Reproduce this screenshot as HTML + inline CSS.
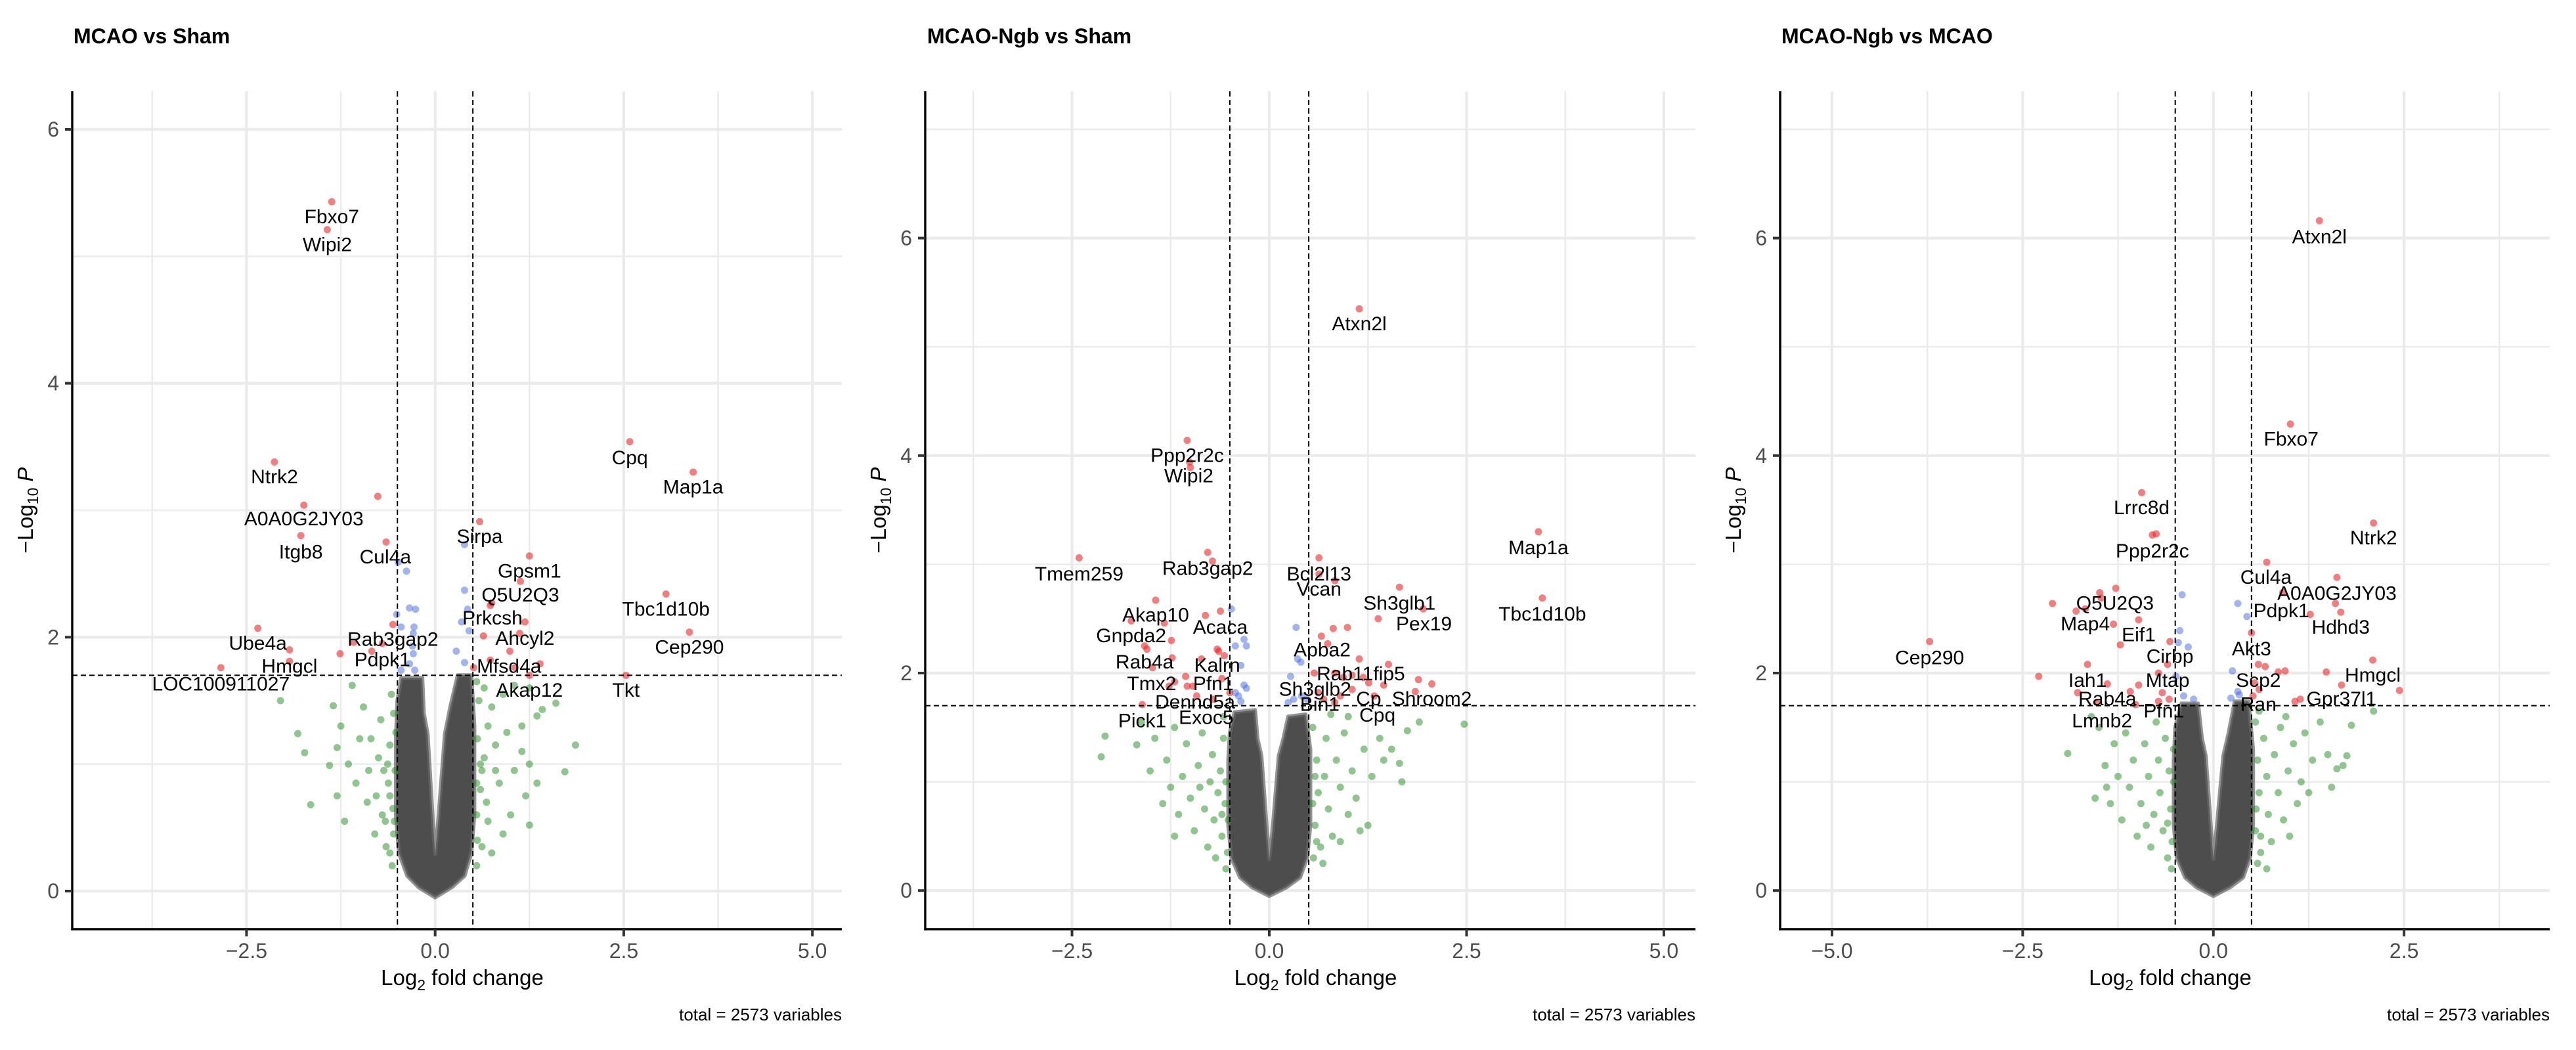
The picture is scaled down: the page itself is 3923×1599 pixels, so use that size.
<!DOCTYPE html>
<html><head><meta charset="utf-8"><style>
html,body{margin:0;padding:0;background:#fff}
svg{display:block;font-family:"Liberation Sans",sans-serif}
</style></head><body>
<svg id="chart" width="3923" height="1599" viewBox="0 0 3923 1599" xmlns="http://www.w3.org/2000/svg"></svg>
<script>
// ---------- DATA ----------
const p1Red=[[-1.37,5.43],[-1.43,5.21],[-2.13,3.38],[-1.74,3.04],[-1.78,2.80],[-0.76,3.11],[-0.65,2.75],[2.58,3.54],[3.42,3.30],[0.59,2.91],[1.25,2.64],[1.13,2.44],[0.73,2.25],[0.75,2.27],[1.19,2.12],[3.06,2.34],[3.37,2.04],[0.64,2.01],[1.12,2.03],[0.99,1.89],[-2.35,2.07],[-1.93,1.90],[-1.93,1.81],[-2.84,1.76],[-1.26,1.87],[-1.08,1.96],[-0.84,1.89],[-0.70,1.95],[-0.56,2.10],[0.73,1.82],[0.51,1.76],[1.06,1.76],[1.39,1.79],[1.25,1.70],[2.53,1.70]];
const p1Blue=[[0.39,2.73],[-0.38,2.52],[-0.49,2.59],[0.39,2.37],[-0.51,2.18],[-0.34,2.23],[-0.26,2.22],[-0.28,2.08],[-0.45,2.08],[-0.29,2.03],[-0.30,1.93],[-0.29,1.87],[-0.34,1.79],[-0.45,1.74],[-0.27,1.74],[0.35,2.12],[0.45,2.05],[0.43,2.22],[0.28,1.89],[0.39,1.80]];
const p1Green=[[-2.05,1.50],[-1.82,1.24],[-1.73,1.09],[-1.65,0.68],[-1.35,1.46],[-1.30,1.13],[-1.40,0.99],[-1.25,1.30],[-1.20,0.55],[-1.30,0.75],[-1.10,1.62],[-1.05,0.85],[-1.00,1.20],[-0.95,1.45],[-0.90,0.70],[-0.85,1.20],[-0.80,0.45],[-0.75,1.05],[-0.72,1.35],[-0.70,0.60],[-0.68,0.95],[-0.65,0.35],[-0.62,0.85],[-0.60,0.30],[-0.60,1.15],[-0.58,1.55],[-0.56,0.65],[-0.55,1.40],[-0.55,0.45],[-0.53,0.95],[-0.52,1.25],[-0.88,0.95],[-1.15,1.00],[-0.78,0.75],[-0.66,0.55],[-0.57,0.20],[-0.60,0.75],[-0.63,1.00],[-0.54,0.55],[0.55,1.65],[0.65,1.60],[0.75,1.45],[0.90,1.55],[1.05,1.62],[1.25,1.60],[1.35,1.38],[1.60,1.48],[1.42,1.43],[1.86,1.15],[1.72,0.94],[1.15,1.30],[0.95,1.25],[0.80,1.15],[0.65,1.05],[0.60,0.80],[0.70,0.55],[0.85,0.85],[1.05,0.95],[1.25,1.00],[1.35,0.85],[1.20,0.75],[1.00,0.60],[0.90,0.45],[0.62,0.35],[0.75,0.30],[1.25,0.52],[0.55,0.20],[1.15,1.10],[0.70,1.30],[0.58,1.50],[0.55,0.60],[0.56,1.20],[0.62,0.95],[0.68,0.70],[0.80,0.95],[0.56,0.40],[0.60,1.00],[0.55,0.85]];
const p1Gray=[[0,-0.05],[-0.22,0.03],[-0.37,0.12],[-0.48,0.3],[-0.52,0.6],[-0.52,1.2],[-0.50,1.5],[-0.45,1.68],[-0.17,1.68],[-0.15,1.4],[-0.10,1.24],[-0.03,0.55],[0,0.29],[0.04,0.55],[0.13,1.24],[0.20,1.45],[0.30,1.70],[0.48,1.70],[0.52,1.3],[0.52,0.6],[0.48,0.3],[0.39,0.12],[0.22,0.03]];
const p1Labels=[["Fbxo7",-1.37,5.31],["Wipi2",-1.43,5.09],["Ntrk2",-2.13,3.26],["A0A0G2JY03",-1.74,2.93],["Itgb8",-1.78,2.67],["Cul4a",-0.66,2.63],["Cpq",2.58,3.41],["Map1a",3.42,3.18],["Sirpa",0.59,2.79],["Gpsm1",1.25,2.52],["Q5U2Q3",1.13,2.33],["Prkcsh",0.76,2.15],["Tbc1d10b",3.06,2.22],["Cep290",3.37,1.92],["Ahcyl2",1.19,1.99],["Ube4a",-2.35,1.95],["Hmgcl",-1.93,1.77],["LOC100911027",-2.84,1.63],["Rab3gap2",-0.56,1.98],["Pdpk1",-0.70,1.82],["Mfsd4a",0.98,1.77],["Akap12",1.25,1.58],["Tkt",2.53,1.58]];

const p2Red=[[1.14,5.35],[-1.04,4.14],[-1.01,3.94],[-1.00,3.89],[3.41,3.30],[3.46,2.69],[-2.41,3.06],[-0.78,3.11],[-0.72,3.03],[0.63,3.06],[0.63,2.91],[0.83,2.85],[1.65,2.79],[1.95,2.59],[1.38,2.50],[-1.44,2.67],[-1.75,2.48],[-1.33,2.46],[-0.81,2.53],[-0.62,2.57],[-1.24,2.30],[-1.58,2.25],[-1.55,2.22],[-1.23,2.14],[-1.48,2.05],[-0.66,2.22],[-0.64,2.20],[-0.86,2.13],[-0.57,2.16],[-0.60,1.95],[-1.06,1.97],[-1.20,1.92],[-1.04,1.88],[-0.97,1.88],[-1.27,1.88],[-0.92,1.79],[-0.50,1.82],[-0.71,1.76],[-1.61,1.71],[0.66,2.34],[0.81,2.41],[0.99,2.42],[0.74,2.27],[1.14,2.13],[1.51,2.08],[0.57,2.00],[0.83,2.00],[0.94,1.96],[1.05,1.98],[1.19,1.96],[1.26,1.91],[1.45,1.89],[1.89,1.94],[2.06,1.90],[1.85,1.83],[0.62,1.82],[0.69,1.76],[0.90,1.79],[1.05,1.85],[1.33,1.79],[0.83,1.73]];
const p2Blue=[[-0.48,2.59],[-0.43,2.25],[-0.32,2.31],[-0.29,2.25],[0.34,2.42],[0.36,2.13],[0.40,2.10],[-0.36,2.07],[-0.32,1.89],[-0.29,1.86],[-0.39,1.79],[-0.36,1.74],[-0.43,1.82],[0.27,1.97],[0.31,1.76],[0.41,1.79],[0.48,1.76],[0.24,1.73]];
const p2Green=[[-2.13,1.23],[-2.08,1.42],[-1.68,1.34],[-1.51,1.10],[-1.62,1.55],[-1.45,1.40],[-1.30,1.20],[-1.25,0.95],[-1.20,1.50],[-1.15,0.70],[-1.10,1.05],[-1.05,1.35],[-1.00,0.85],[-0.95,0.55],[-0.90,1.15],[-0.85,1.45],[-0.82,0.75],[-0.78,0.40],[-0.75,1.00],[-0.72,1.25],[-0.70,0.65],[-0.68,0.30],[-0.65,0.90],[-0.62,1.10],[-0.60,0.50],[-0.58,1.40],[-0.56,0.80],[-0.55,1.00],[-0.53,0.35],[-0.52,0.65],[-1.20,0.50],[-0.88,0.95],[-1.35,0.80],[-0.58,1.60],[-0.55,0.20],[-0.60,0.70],[0.55,1.50],[0.60,1.20],[0.62,0.90],[0.58,0.60],[0.65,0.40],[0.70,1.05],[0.72,1.40],[0.75,0.75],[0.80,0.50],[0.85,1.20],[0.90,0.95],[0.95,1.45],[1.00,0.70],[1.05,1.10],[1.10,0.85],[1.20,1.30],[1.25,0.60],[1.30,1.05],[1.40,1.40],[1.45,1.20],[1.55,1.30],[1.65,1.17],[1.68,1.00],[1.75,1.47],[1.90,1.55],[2.47,1.53],[0.56,0.30],[0.68,0.25],[0.90,0.45],[1.15,0.55],[0.58,1.05],[1.00,1.60],[0.78,1.62],[0.55,0.80],[0.60,0.45]];
const p2Gray=[[0,-0.05],[-0.22,0.03],[-0.37,0.12],[-0.48,0.3],[-0.52,0.6],[-0.52,1.2],[-0.50,1.45],[-0.44,1.64],[-0.18,1.66],[-0.15,1.4],[-0.10,1.24],[-0.03,0.55],[0,0.29],[0.04,0.55],[0.12,1.24],[0.18,1.40],[0.24,1.60],[0.46,1.62],[0.52,1.3],[0.52,0.6],[0.48,0.3],[0.39,0.12],[0.22,0.03]];
const p2Labels=[["Atxn2l",1.14,5.21],["Ppp2r2c",-1.04,4.00],["Wipi2",-1.02,3.81],["Map1a",3.41,3.15],["Tbc1d10b",3.46,2.54],["Tmem259",-2.41,2.91],["Rab3gap2",-0.78,2.96],["Bcl2l13",0.63,2.91],["Vcan",0.63,2.77],["Sh3glb1",1.65,2.64],["Pex19",1.96,2.45],["Akap10",-1.44,2.53],["Acaca",-0.62,2.42],["Gnpda2",-1.75,2.34],["Apba2",0.67,2.21],["Rab4a",-1.58,2.10],["Kalrn",-0.66,2.07],["Rab11fip5",1.16,1.99],["Tmx2",-1.49,1.90],["Pfn1",-0.71,1.90],["Sh3glb2",0.58,1.85],["Dennd5a",-0.94,1.73],["Cp",1.26,1.76],["Shroom2",2.06,1.76],["Bin1",0.64,1.71],["Pick1",-1.61,1.56],["Exoc5",-0.80,1.59],["Cpq",1.37,1.61]];

const p3Red=[[1.39,6.16],[1.01,4.29],[-0.94,3.66],[-0.80,3.27],[-0.75,3.28],[2.10,3.38],[0.70,3.02],[1.62,2.88],[0.91,2.74],[1.60,2.64],[1.67,2.56],[1.27,2.54],[-1.28,2.78],[-1.49,2.74],[-1.47,2.69],[-2.11,2.64],[-1.80,2.57],[-1.68,2.59],[-1.31,2.45],[-0.98,2.49],[-1.22,2.26],[-0.57,2.29],[-0.60,2.08],[0.50,2.37],[-3.72,2.29],[-2.29,1.97],[-1.65,2.08],[-1.39,1.90],[-1.09,1.83],[-0.98,1.89],[-1.78,1.82],[-1.53,1.73],[-1.02,1.71],[-0.72,2.00],[-0.67,1.82],[-0.58,1.76],[-0.72,1.74],[0.59,2.08],[0.68,2.06],[0.54,1.91],[0.60,1.85],[0.85,2.01],[0.94,2.02],[1.48,2.01],[2.09,2.12],[1.68,1.89],[2.44,1.84],[1.14,1.76],[1.07,1.74],[0.52,1.79]];
const p3Blue=[[-0.41,2.72],[0.32,2.64],[0.44,2.52],[-0.44,2.39],[-0.46,2.28],[-0.33,2.24],[0.25,2.02],[-0.49,1.97],[-0.39,1.79],[-0.26,1.76],[0.23,1.77],[0.34,1.80],[0.32,1.83]];
const p3Green=[[-1.91,1.26],[-1.55,0.85],[-1.50,1.50],[-1.42,1.15],[-1.35,0.80],[-1.30,1.35],[-1.25,1.05],[-1.20,0.65],[-1.15,1.45],[-1.10,0.95],[-1.05,1.20],[-1.00,0.50],[-0.95,0.80],[-0.90,1.35],[-0.85,1.05],[-0.82,0.40],[-0.78,0.70],[-0.75,1.55],[-0.72,1.20],[-0.70,0.90],[-0.66,0.55],[-0.63,1.40],[-0.60,0.30],[-0.58,1.10],[-0.56,0.75],[-0.54,0.45],[-0.52,1.00],[-0.52,1.30],[-1.60,1.60],[-0.88,0.60],[-1.40,0.95],[-0.55,0.20],[-0.60,0.62],[0.55,1.55],[0.58,1.20],[0.60,0.90],[0.55,0.55],[0.62,0.35],[0.66,1.40],[0.70,1.05],[0.72,0.70],[0.76,0.45],[0.80,1.25],[0.85,0.90],[0.88,1.50],[0.92,0.65],[0.98,1.10],[1.05,1.35],[1.10,0.80],[1.15,1.00],[1.20,1.45],[1.25,0.90],[1.30,1.20],[1.40,1.55],[1.50,1.25],[1.62,1.12],[1.70,1.15],[1.75,1.24],[1.81,1.52],[2.10,1.65],[1.55,0.95],[0.58,0.25],[0.70,0.20],[1.00,0.50],[0.95,1.60],[0.60,1.65],[0.56,0.75],[0.62,0.50]];
const p3Gray=[[0,-0.05],[-0.22,0.03],[-0.37,0.12],[-0.48,0.3],[-0.52,0.6],[-0.52,1.2],[-0.50,1.5],[-0.42,1.72],[-0.20,1.72],[-0.15,1.4],[-0.10,1.24],[-0.03,0.55],[0,0.29],[0.04,0.55],[0.13,1.24],[0.20,1.45],[0.28,1.74],[0.46,1.74],[0.52,1.3],[0.52,0.6],[0.48,0.3],[0.39,0.12],[0.22,0.03]];
const p3Labels=[["Atxn2l",1.39,6.01],["Fbxo7",1.02,4.15],["Lrrc8d",-0.94,3.52],["Ppp2r2c",-0.80,3.12],["Ntrk2",2.10,3.24],["Cul4a",0.69,2.88],["A0A0G2JY03",1.62,2.73],["Pdpk1",0.89,2.57],["Hdhd3",1.67,2.42],["Q5U2Q3",-1.29,2.64],["Map4",-1.68,2.45],["Eif1",-0.98,2.35],["Cirbp",-0.57,2.15],["Akt3",0.50,2.22],["Cep290",-3.72,2.14],["Iah1",-1.65,1.93],["Mtap",-0.60,1.93],["Scp2",0.59,1.93],["Hmgcl",2.09,1.98],["Rab4a",-1.39,1.76],["Gpr37l1",1.68,1.76],["Ran",0.59,1.71],["Pfn1",-0.65,1.65],["Lmnb2",-1.46,1.56]];

const p1Titles="MCAO vs Sham", p2Titles="MCAO-Ngb vs Sham", p3Titles="MCAO-Ngb vs MCAO";
const p1XTicks=[-2.5,0,2.5,5], p2XTicks=[-2.5,0,2.5,5], p3XTicks=[-5,-2.5,0,2.5];
const p1XTickLabels=["\u22122.5","0.0","2.5","5.0"], p2XTickLabels=["\u22122.5","0.0","2.5","5.0"], p3XTickLabels=["\u22125.0","\u22122.5","0.0","2.5"];
const xMinorTicks=[-6.25,-3.75,-1.25,1.25,3.75];
const yTicks=[0,2,4,6], yTickLabels=["0","2","4","6"], yMinorTicks=[1,3,5,7];
const fcCut=0.5, pCut=1.7;

// ---------- RENDER ----------
const NS="http://www.w3.org/2000/svg";
const svg=document.getElementById('chart');
function mk(tag,attrs,parent){const e=document.createElementNS(NS,tag);for(const k in attrs)e.setAttribute(k,attrs[k]);(parent||svg).appendChild(e);return e;}

const panels=[
 {id:1,title:p1Titles,TX:112,L:110,R:1282,xmin:-4.81,xmax:5.39,ymin:-0.30,ymax:6.30,xt:p1XTicks,xl:p1XTickLabels,red:p1Red,blue:p1Blue,green:p1Green,gray:p1Gray,labels:p1Labels},
 {id:2,title:p2Titles,TX:1412,L:1409,R:2582,xmin:-4.36,xmax:5.40,ymin:-0.355,ymax:7.35,xt:p2XTicks,xl:p2XTickLabels,red:p2Red,blue:p2Blue,green:p2Green,gray:p2Gray,labels:p2Labels},
 {id:3,title:p3Titles,TX:2713,L:2711,R:3883,xmin:-5.68,xmax:4.41,ymin:-0.355,ymax:7.35,xt:p3XTicks,xl:p3XTickLabels,red:p3Red,blue:p3Blue,green:p3Green,gray:p3Gray,labels:p3Labels}
];
const T=139,B=1415;
panels.forEach(p=>{
  const sx=x=>p.L+(x-p.xmin)/(p.xmax-p.xmin)*(p.R-p.L);
  const sy=y=>B-(y-p.ymin)/(p.ymax-p.ymin)*(B-T);
  const g=mk('g',{});
  
  
  const t=mk('text',{x:p.TX,y:66,'font-size':32,'font-weight':'bold',fill:'#000'},g);
  t.textContent=p.title;
  
  
  const grid=mk('g',{},g);
  
  
  xMinorTicks.forEach(v=>{if(v>p.xmin&&v<p.xmax)mk('line',{x1:sx(v),x2:sx(v),y1:T,y2:B,stroke:'#ebebeb','stroke-width':2.5},grid);});
  yMinorTicks.forEach(v=>{if(v>p.ymin&&v<p.ymax)mk('line',{x1:p.L,x2:p.R,y1:sy(v),y2:sy(v),stroke:'#ebebeb','stroke-width':2.5},grid);});
  p.xt.forEach(v=>mk('line',{x1:sx(v),x2:sx(v),y1:T,y2:B,stroke:'#ebebeb','stroke-width':4.3},grid));
  yTicks.forEach(v=>mk('line',{x1:p.L,x2:p.R,y1:sy(v),y2:sy(v),stroke:'#ebebeb','stroke-width':4.3},grid));
  const pts=p.gray.map(d=>sx(d[0]).toFixed(1)+','+sy(d[1]).toFixed(1)).join(' ');
  const poly=mk('polygon',{points:pts,fill:'#4d4d4d',stroke:'#666','stroke-width':6,'stroke-linejoin':'round','stroke-opacity':0.7},g);
  
  
  const draw=(arr,col,name)=>{arr.forEach(d=>{const c=mk('circle',{cx:sx(d[0]),cy:sy(d[1]),r:5.5,fill:col},g);
    
    });};
  draw(p.green,'rgba(34,139,34,0.5)','log2fc-point');
  draw(p.blue,'rgba(65,105,225,0.5)','p-value-point');
  draw(p.red,'rgba(235,40,40,0.6)','significant-point');
  [-fcCut,fcCut].forEach(v=>{const l=mk('line',{x1:sx(v),x2:sx(v),y1:T,y2:B,stroke:'#000','stroke-width':2,'stroke-dasharray':'8,5'},g);
    
    });
  const hl=mk('line',{x1:p.L,x2:p.R,y1:sy(pCut),y2:sy(pCut),stroke:'#000','stroke-width':2,'stroke-dasharray':'8,5'},g);
  
  
  p.labels.forEach(d=>{const tx=mk('text',{x:sx(d[1]),y:sy(d[2]),'font-size':30,'text-anchor':'middle','dominant-baseline':'central',fill:'#000'},g);
    tx.textContent=d[0];
    
    });
  const ax=mk('g',{},g);
  
  
  mk('line',{x1:p.L,x2:p.L,y1:T,y2:B+1.7,stroke:'#000','stroke-width':3.4},ax);
  mk('line',{x1:p.L-1.7,x2:p.R,y1:B,y2:B,stroke:'#000','stroke-width':3.4},ax);
  p.xt.forEach((v,i)=>{mk('line',{x1:sx(v),x2:sx(v),y1:B,y2:B+11,stroke:'#333','stroke-width':4},ax);
    const tl=mk('text',{x:sx(v),y:B+33,'font-size':32,'text-anchor':'middle','dominant-baseline':'central',fill:'#4d4d4d'},ax);
    tl.textContent=p.xl[i];
    
    });
  yTicks.forEach((v,i)=>{mk('line',{x1:p.L-11,x2:p.L,y1:sy(v),y2:sy(v),stroke:'#333','stroke-width':4},ax);
    const tl=mk('text',{x:p.L-20,y:sy(v),'font-size':32,'text-anchor':'end','dominant-baseline':'central',fill:'#4d4d4d'},ax);
    tl.textContent=yTickLabels[i];
    
    });
  const xt=mk('text',{x:(p.L+p.R)/2+8,y:1500,'font-size':33,'text-anchor':'middle',fill:'#000'},g);
  xt.innerHTML='Log<tspan font-size="23" dy="8">2</tspan><tspan dy="-8"> fold change</tspan>';
  
  
  const yt=mk('text',{x:0,y:0,'font-size':33,'text-anchor':'middle',fill:'#000',transform:'translate('+(p.L-60)+','+((T+B)/2)+') rotate(-90)'},g);
  yt.innerHTML='\u2212Log<tspan font-size="23" dy="8">10</tspan><tspan dy="-8"> </tspan><tspan font-style="italic">P</tspan>';
  
  
  const cap=mk('text',{x:p.R,y:1554,'font-size':26,'text-anchor':'end',fill:'#000'},g);
  cap.textContent='total = 2573 variables';
  
  
});
</script>
</body></html>
